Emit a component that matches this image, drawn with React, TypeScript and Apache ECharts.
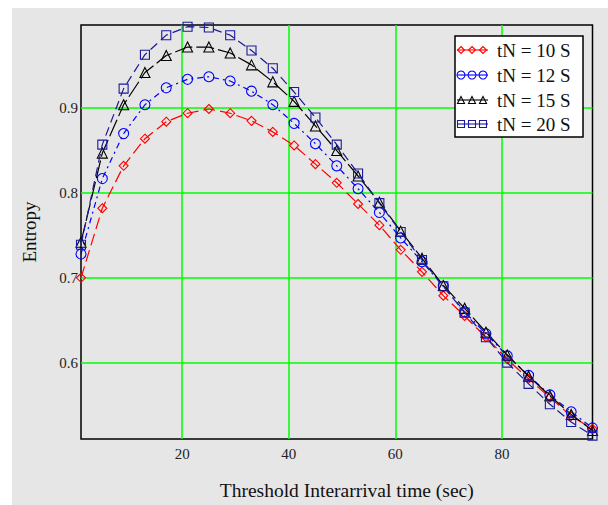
import React, { useEffect, useRef } from "react";
import * as echarts from "echarts";

const xValues = [1, 5, 9, 13, 17, 21, 25, 29, 33, 37, 41, 45, 49, 53, 57, 61, 65, 69, 73, 77, 81, 85, 89, 93, 97];
const tn10 = [0.700, 0.782, 0.832, 0.864, 0.884, 0.894, 0.899, 0.894, 0.885, 0.872, 0.856, 0.834, 0.812, 0.787, 0.762, 0.733, 0.707, 0.679, 0.655, 0.630, 0.604, 0.581, 0.559, 0.537, 0.522];
const tn12 = [0.728, 0.817, 0.870, 0.904, 0.924, 0.934, 0.937, 0.932, 0.920, 0.904, 0.882, 0.858, 0.832, 0.805, 0.777, 0.747, 0.719, 0.690, 0.660, 0.634, 0.608, 0.585, 0.562, 0.542, 0.523];
const tn15 = [0.742, 0.847, 0.904, 0.942, 0.962, 0.972, 0.972, 0.965, 0.951, 0.931, 0.908, 0.879, 0.850, 0.820, 0.789, 0.755, 0.723, 0.691, 0.664, 0.636, 0.609, 0.584, 0.561, 0.539, 0.520];
const tn20 = [0.739, 0.857, 0.923, 0.963, 0.986, 0.996, 0.995, 0.986, 0.968, 0.947, 0.919, 0.889, 0.857, 0.823, 0.788, 0.754, 0.721, 0.690, 0.659, 0.630, 0.600, 0.575, 0.551, 0.530, 0.514];
const seriesNames = ["tN = 10 S", "tN = 12 S", "tN = 15 S", "tN = 20 S"];
const xTicks = [20, 40, 60, 80];
const yTicks = [0.6, 0.7, 0.8, 0.9];

const FONT = "'Liberation Serif', 'Times New Roman', serif";

const styles = [
  { color: "#ff0000", symbol: "diamond", size: 9, dash: [12, 5] as number[] },
  { color: "#0000ff", symbol: "circle", size: 10, dash: [6, 4, 2, 4] as number[] },
  { color: "#000000", symbol: "triangle", size: 10, dash: [18, 4] as number[] },
  { color: "#1a1a9a", symbol: "rect", size: 9, dash: [9, 5] as number[] },
];

function legendMarker(kind: string, cx: number, cy: number, color: string): any {
  const s = 3.5;
  const style = { fill: "none", stroke: color, lineWidth: 1.1 };
  if (kind === "diamond") {
    return { type: "polygon", shape: { points: [[cx, cy - s], [cx + s, cy], [cx, cy + s], [cx - s, cy]] }, style, z: 102 };
  }
  if (kind === "circle") {
    return { type: "circle", shape: { cx, cy, r: s + 0.5 }, style, z: 102 };
  }
  if (kind === "triangle") {
    return { type: "polygon", shape: { points: [[cx, cy - s], [cx + s, cy + s], [cx - s, cy + s]] }, style, z: 102 };
  }
  return { type: "rect", shape: { x: cx - s, y: cy - s, width: 2 * s, height: 2 * s }, style, z: 102 };
}

export default function App() {
  const ref = useRef<HTMLDivElement>(null);
  useEffect(() => {
    if (!ref.current) return;
    const chart = echarts.init(ref.current, undefined, { renderer: "svg" });
    const allData = [tn10, tn12, tn15, tn20];

    const legendEls: any[] = [
      {
        type: "rect",
        shape: { x: 455, y: 36, width: 128, height: 101 },
        style: { fill: "#ffffff", stroke: "#000000", lineWidth: 1.5 },
        z: 100,
      },
    ];
    const ys = [50, 75, 100, 124];
    seriesNames.forEach((name, i) => {
      const st = styles[i];
      const y = ys[i];
      legendEls.push({
        type: "line",
        shape: { x1: 457, y1: y, x2: 488, y2: y },
        style: { stroke: st.color, lineWidth: 1.1 },
        z: 101,
      });
      [461, 472, 483].forEach((cx) => legendEls.push(legendMarker(st.symbol, cx, y, st.color)));
      legendEls.push({
        type: "text",
        x: 497,
        y: y,
        style: { text: name, font: `19px ${FONT}`, fill: "#111111", verticalAlign: "middle", align: "left" },
        z: 102,
      });
    });

    chart.setOption({
      animation: false,
      backgroundColor: "transparent",
      grid: {
        left: 81,
        right: 15.5,
        top: 25,
        bottom: 65,
        show: true,
        borderColor: "#000000",
        borderWidth: 1.5,
        backgroundColor: "transparent",
      },
      xAxis: {
        type: "value",
        min: 1,
        max: 97,
        name: "Threshold Interarrival time (sec)",
        nameLocation: "middle",
        nameGap: 41,
        nameTextStyle: { fontFamily: FONT, fontSize: 19.5, color: "#111111", padding: [0, 0, 0, 20] },
        axisLine: { show: false },
        axisTick: { show: false, customValues: xTicks },
        axisLabel: { customValues: xTicks, fontFamily: FONT, fontSize: 15, color: "#222222", margin: 7 },
        splitLine: { show: true, lineStyle: { color: "#00ff00", width: 1.5 } },
      },
      yAxis: {
        type: "value",
        min: 0.51,
        max: 0.998,
        name: "Entropy",
        nameLocation: "middle",
        nameGap: 42,
        nameTextStyle: { fontFamily: FONT, fontSize: 19, color: "#111111" },
        axisLine: { show: false },
        axisTick: { show: false, customValues: yTicks },
        axisLabel: { customValues: yTicks, fontFamily: FONT, fontSize: 15, color: "#222222", margin: 3 },
        splitLine: { show: true, lineStyle: { color: "#00ff00", width: 1.5 } },
      },
      series: seriesNames.map((name, i) => ({
        name,
        type: "line",
        data: xValues.map((x, j) => [x, allData[i][j]]),
        symbol: styles[i].symbol,
        symbolSize: styles[i].size,
        showAllSymbol: true,
        clip: true,
        lineStyle: { color: styles[i].color, width: 1.2, type: styles[i].dash },
        itemStyle: { color: "rgba(0,0,0,0)", borderColor: styles[i].color, borderWidth: 1.1 },
        emphasis: { disabled: true },
        z: 2 + i,
      })),
      graphic: legendEls,
    });
    return () => chart.dispose();
  }, []);

  return (
    <div style={{ position: "absolute", left: 0, top: 0, width: 608, height: 505, background: "#ffffff" }}>
      <div style={{ position: "absolute", left: 12, top: 8, width: 596, height: 497, background: "#e6e6e6" }} />
      <div ref={ref} style={{ position: "absolute", left: 0, top: 0, width: 608, height: 505 }} />
    </div>
  );
}
